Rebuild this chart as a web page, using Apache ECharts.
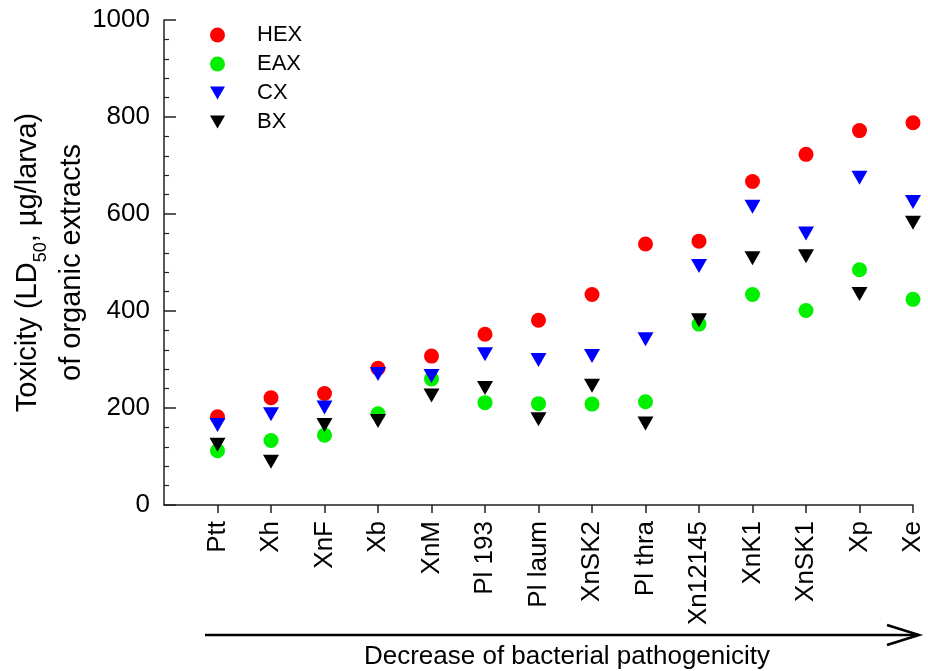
<!DOCTYPE html>
<html>
<head>
<meta charset="utf-8">
<script src="https://cdn.jsdelivr.net/npm/echarts@6/dist/echarts.min.js"></script>
<style>html,body{margin:0;padding:0;background:#fff;}#c{width:928px;height:671px;}</style>
</head>
<body>
<div id="c"></div>
<script>
const categories = ['Ptt','Xh','XnF','Xb','XnM','Pl 193','Pl laum','XnSK2','Pl thra','Xn12145','XnK1','XnSK1','Xp','Xe'];
const HEX = [182, 221, 230, 282, 307, 352, 381, 434, 538, 544, 667, 723, 772, 788];
const EAX = [112, 133, 144, 188, 260, 211, 209, 208, 213, 373, 434, 401, 485, 424];
const CX  = [165, 187, 201, 270, 266, 311, 299, 307, 342, 493, 615, 560, 675, 625];
const BX  = [124,  89, 165, 173, 226, 241, 177, 246, 168, 381, 509, 513, 435, 582];
const yTicks = [0, 200, 400, 600, 800, 1000];

const FONT = 'Liberation Sans, Arial, sans-serif';
const downTri = 'path://M0,0L20,0L10,17.3Z';
const toData = arr => categories.map((c, i) => [c, arr[i]]);

const chart = echarts.init(document.getElementById('c'));
chart.setOption({
  animation: false,
  backgroundColor: '#fff',
  grid: { left: 164, top: 20, right: 15, bottom: 166, containLabel: false, outerBoundsMode: 'none' },
  legend: {
    orient: 'vertical', left: 210, top: 24, padding: 0,
    itemWidth: 15, itemHeight: 15, itemGap: 7,
    textStyle: { fontFamily: FONT, fontSize: 22, color: '#000', padding: [0, 0, 0, 27] },
    data: ['HEX', 'EAX', 'CX', 'BX']
  },
  xAxis: {
    type: 'category',
    data: [''].concat(categories),
    boundaryGap: false,
    axisLine: { lineStyle: { color: '#222', width: 1.5 } },
    axisTick: { length: 8, interval: (i) => i > 0, lineStyle: { color: '#222', width: 1.5 } },
    axisLabel: { interval: 0, rotate: 90, margin: 16, fontFamily: FONT, fontSize: 26, color: '#000' },
    splitLine: { show: false }
  },
  yAxis: {
    type: 'value', min: 0, max: 1000, interval: 200,
    name: '{a|Toxicity (LD}{s|50}{a|, µg/larva)}\n{a|of organic extracts}',
    nameLocation: 'middle', nameRotate: 90, nameGap: 70, nameMoveOverlap: false,
    nameTextStyle: {
      fontFamily: FONT, color: '#000',
      rich: {
        a: { fontFamily: FONT, fontSize: 29, lineHeight: 44, color: '#000' },
        s: { fontFamily: FONT, fontSize: 18, lineHeight: 22, verticalAlign: 'bottom', color: '#000' }
      }
    },
    axisLine: { show: true, lineStyle: { color: '#222', width: 1.5 } },
    axisTick: { show: true, inside: true, length: 12, lineStyle: { color: '#222', width: 1.5 } },
    minorTick: { show: true, splitNumber: 5, length: 5, lineStyle: { color: '#222', width: 1.2 } },
    axisLabel: { margin: 14, fontFamily: FONT, fontSize: 26, color: '#000',
      formatter: v => yTicks.includes(v) ? String(v) : '' },
    splitLine: { show: false }
  },
  series: [
    { name: 'HEX', type: 'scatter', symbol: 'circle', symbolSize: 15, itemStyle: { color: '#ff0000', opacity: 1 }, data: toData(HEX) },
    { name: 'EAX', type: 'scatter', symbol: 'circle', symbolSize: 15, itemStyle: { color: '#00f000', opacity: 1 }, data: toData(EAX) },
    { name: 'CX', type: 'scatter', symbol: downTri, symbolSize: [16, 14], itemStyle: { color: '#0000ff', opacity: 1 }, data: toData(CX) },
    { name: 'BX', type: 'scatter', symbol: downTri, symbolSize: [16, 14], itemStyle: { color: '#000000', opacity: 1 }, data: toData(BX) }
  ],
  graphic: [
    { type: 'line', shape: { x1: 205, y1: 635, x2: 918, y2: 635 }, style: { stroke: '#000', lineWidth: 2.5 } },
    { type: 'polyline', shape: { points: [[887, 625], [919, 635], [887, 645]] }, style: { stroke: '#000', lineWidth: 2.5, fill: null } },
    { type: 'text', x: 567, y: 657, style: { text: 'Decrease of bacterial pathogenicity', fontFamily: FONT, fontSize: 26, fill: '#000', align: 'center', verticalAlign: 'middle' } }
  ]
});
</script>
</body>
</html>
